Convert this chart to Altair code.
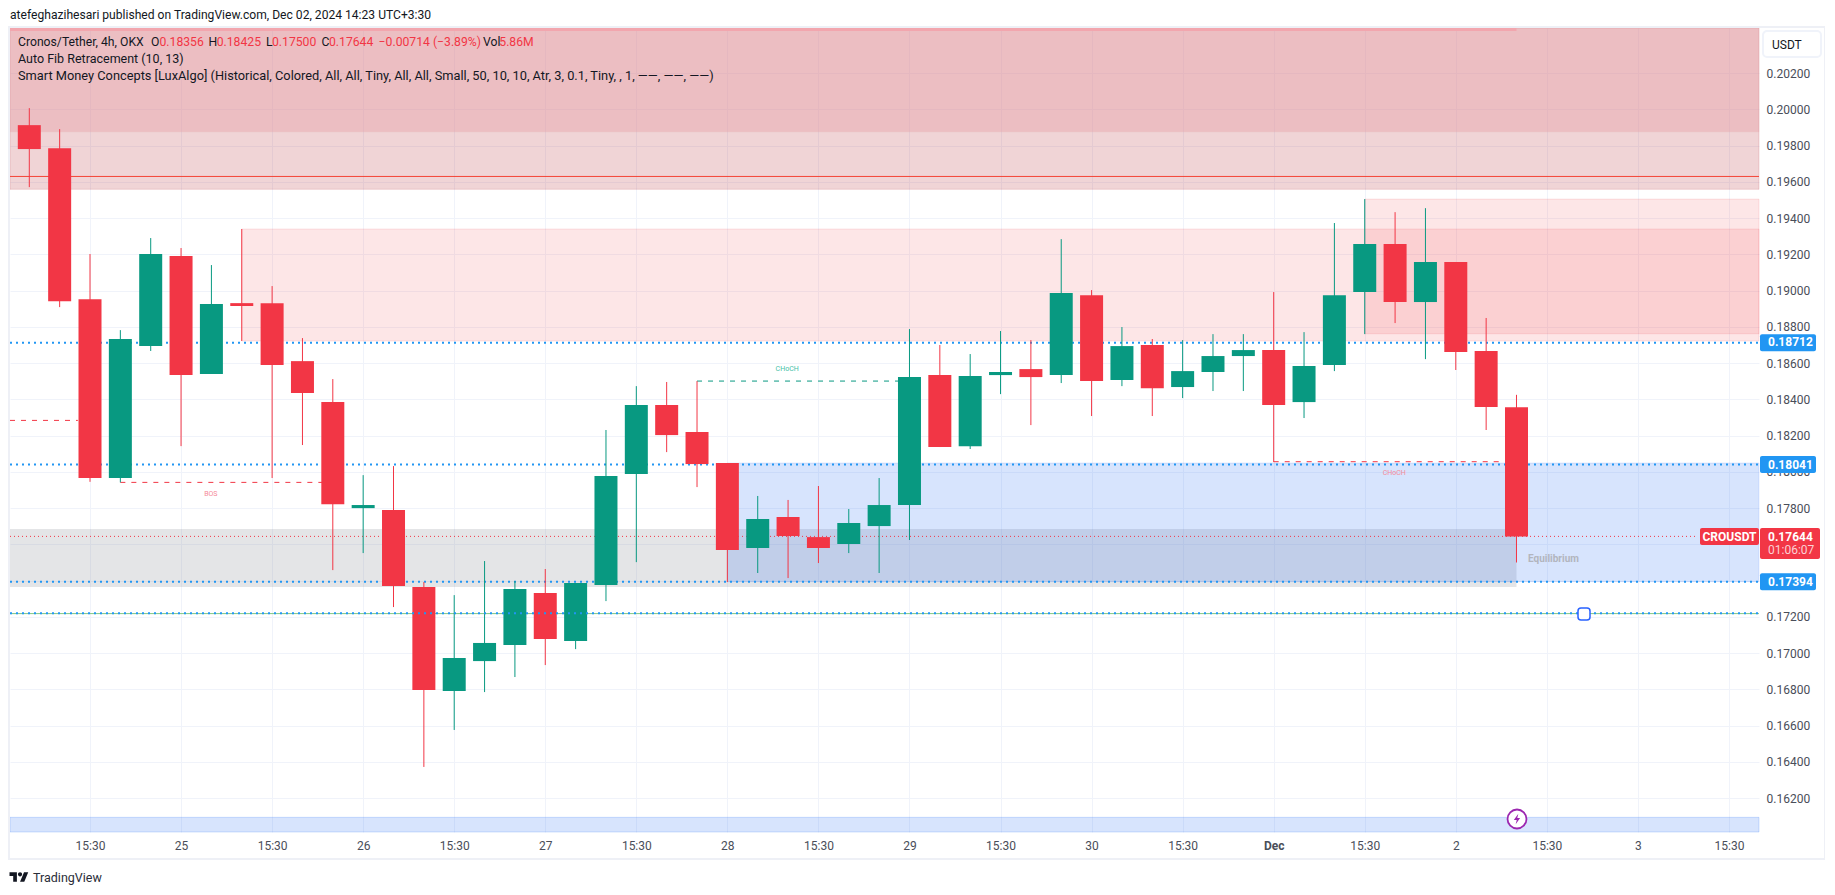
import altair as alt
import pandas as pd

# --- candle data (4h, Cronos/Tether) ---
opens = [0.19913,0.19786,0.18953,0.17966,0.18694,0.19191,0.18540,0.18931,0.18931,0.18611,
         0.18385,0.17800,0.17789,0.17365,0.16791,0.16956,0.17045,0.17331,0.17067,0.17376,
         0.17988,0.18369,0.18220,0.18049,0.17580,0.17751,0.17640,0.17602,0.17701,0.17817,
         0.18534,0.18142,0.18534,0.18567,0.18534,0.18975,0.18507,0.18700,0.18468,0.18551,
         0.18639,0.18672,0.18385,0.18589,0.18992,0.19257,0.18937,0.19158,0.18667,0.18356]
closes = [0.19781,0.18942,0.17966,0.18733,0.19202,0.18534,0.18926,0.18915,0.18589,0.18435,
          0.17822,0.17817,0.17370,0.16796,0.16973,0.17056,0.17354,0.17078,0.17387,0.17977,
          0.18369,0.18203,0.18043,0.17569,0.17740,0.17646,0.17580,0.17718,0.17817,0.18523,
          0.18137,0.18529,0.18551,0.18523,0.18987,0.18501,0.18694,0.18462,0.18556,0.18639,
          0.18672,0.18369,0.18584,0.18975,0.19257,0.18937,0.19158,0.18661,0.18358,0.17644]
highs = [0.20007,0.19891,0.19202,0.18782,0.19290,0.19235,0.19141,0.19340,0.19025,0.18738,
         0.18512,0.17982,0.18032,0.17392,0.17320,0.17508,0.17398,0.17464,0.17387,0.18231,
         0.18473,0.18496,0.18501,0.18049,0.17867,0.17845,0.17922,0.17795,0.17966,0.18788,
         0.18700,0.18650,0.18777,0.18727,0.19284,0.19003,0.18799,0.18733,0.18727,0.18760,
         0.18760,0.18992,0.18771,0.19373,0.19505,0.19433,0.19455,0.19158,0.18849,0.18425]
lows = [0.19571,0.18909,0.17945,0.17942,0.18667,0.18142,0.18540,0.18722,0.17966,0.18148,
        0.17458,0.17552,0.17254,0.16372,0.16576,0.16785,0.16868,0.16934,0.17022,0.17287,
        0.17502,0.18109,0.17916,0.17392,0.17442,0.17414,0.17497,0.17552,0.17442,0.17624,
        0.18137,0.18126,0.18429,0.18258,0.18490,0.18308,0.18473,0.18308,0.18407,0.18446,
        0.18446,0.18054,0.18297,0.18556,0.18760,0.18821,0.18622,0.18562,0.18231,0.17500]

# --- axes ---
x_tick_pos = [2,5,8,11,14,17,20,23,26,29,32,35,38,41,44,47,50,53,56]
x_tick_txt = ["15:30","25","15:30","26","15:30","27","15:30","28","15:30","29","15:30","30",
              "15:30","Dec","15:30","2","15:30","3","15:30"]
y_ticks = [0.162,0.164,0.166,0.168,0.170,0.172,0.174,0.176,0.178,0.180,0.182,0.184,0.186,
           0.188,0.190,0.192,0.194,0.196,0.198,0.200,0.202]
X_DOM = [-0.636, 56.99]
Y_DOM = [0.16013, 0.20449]

# --- zones: x from, x to, price top, price bottom, colour, fill opacity, border opacity ---
zones = [
    (-0.636, 56.99, 0.20449, 0.19559, "#b22833", 0.20, 0.16),
    (-0.636, 56.99, 0.20449, 0.19876, "#e8a4aa", 0.46, 0.16),
    (7, 56.99, 0.19340, 0.18722, "#f03a42", 0.125, 0.12),
    (44, 56.99, 0.19505, 0.18762, "#f03a42", 0.125, 0.12),
    (-0.636, 49, 0.17685, 0.17365, "#787b86", 0.20, 0.0),
    (23, 56.99, 0.18049, 0.17394, "#226cf4", 0.18, 0.12),
    (-0.636, 56.99, 0.16094, 0.16013, "#226cf4", 0.18, 0.2),
]
strip = [(-0.636, 49, 0.20449, 0.20432)]

# --- horizontal levels ---
blue_levels = [0.18712, 0.18041, 0.17394]
blue_top_level = 0.17220
green_level = 0.17218
resistance_line = 0.19630
last_price = 0.17644
dashed_red = [(-0.636, 1.6, 0.18284), (3, 10, 0.17942), (41, 48.6, 0.18056)]
dashed_green = [(22, 29, 0.18501)]
struct_labels = [("BOS", 5.98, 0.17879, "#f58a99"), ("CHoCH", 24.97, 0.18569, "#45bfa8"),
                 ("CHoCH", 44.97, 0.17995, "#f58a99")]

RED, GREEN, BLUE = "#f23645", "#089981", "#2196f3"
FONT = "Roboto"
DARK = "#131722"
GREY = "#4a4e59"

xs = alt.Scale(domain=X_DOM, nice=False, zero=False, padding=0)
ys = alt.Scale(domain=Y_DOM, nice=False, zero=False, padding=0)

AX = alt.Axis(
    values=x_tick_pos, title=None, grid=True, gridColor="#f0f3fa", gridWidth=1,
    domain=False, ticks=False, labelPadding=8, labelFont=FONT, labelFontSize=12,
    labelColor=GREY, labelOverlap=False, labelFlush=False,
    labelExpr="{}[indexof({}, datum.value)]".format(x_tick_txt, x_tick_pos),
    labelFontWeight={"condition": {"test": "datum.value == 41", "value": "bold"}, "value": "normal"},
)
AY = alt.Axis(
    values=y_ticks, title=None, orient="right", grid=True, gridColor="#f0f3fa", gridWidth=1,
    domain=False, ticks=False, labelPadding=7, labelFont=FONT, labelFontSize=12,
    labelColor=GREY, labelOverlap=False, format=".5f", labelBound=False,
)


def X(f, **k):
    return alt.X(f, scale=xs, axis=AX, **k)


def Y(f, **k):
    return alt.Y(f, scale=ys, axis=AY, **k)


def level(rows, color, width, dash=None):
    df = pd.DataFrame(rows, columns=["a", "b", "p"])
    kw = dict(color=color, strokeWidth=width)
    if dash:
        kw["strokeDash"] = dash
    return alt.Chart(df).mark_rule(**kw).encode(x=X("a:Q"), x2="b:Q", y=Y("p:Q"))


def txt(t, x, y, color=DARK, size=12.2, weight="normal", align="left", font=FONT):
    return alt.Chart(pd.DataFrame({"t": [t]})).mark_text(
        color=color, fontSize=size, fontWeight=weight, align=align, baseline="middle", font=font
    ).encode(text="t:N", x=alt.value(x), y=alt.value(y))


def px_rect(x0, x1, y0, y1, fill="transparent", stroke=None, sw=1, radius=0):
    kw = dict(fill=fill, cornerRadius=radius)
    if stroke:
        kw.update(stroke=stroke, strokeWidth=sw)
    return alt.Chart(pd.DataFrame({"k": [0]})).mark_rect(**kw).encode(
        x=alt.value(x0), x2=alt.value(x1), y=alt.value(y0), y2=alt.value(y1))


def price_tag(p, x0, x1, fill, y_up=8.5, y_down=8.5):
    return alt.Chart(pd.DataFrame({"p": [p]})).mark_rect(
        fill=fill, cornerRadius=2, yOffset=-y_up, y2Offset=y_down
    ).encode(x=alt.value(x0), x2=alt.value(x1), y=Y("p:Q"), y2="p:Q")


def icon(path, x, y, size, fill, stroke=None, sw=1):
    kw = dict(shape=path, size=size, fill=fill, filled=True, opacity=1)
    if stroke:
        kw.update(stroke=stroke, strokeWidth=sw)
    return alt.Chart(pd.DataFrame({"k": [0]})).mark_point(**kw).encode(
        x=alt.value(x), y=alt.value(y))


zdf = pd.DataFrame(zones, columns=["a", "b", "top", "bot", "c", "o", "so"])
zones_layer = alt.Chart(zdf).mark_rect(strokeWidth=1).encode(
    x=X("a:Q"),
    x2="b:Q",
    y=Y("top:Q"),
    y2="bot:Q",
    fill=alt.Fill("c:N", scale=None),
    stroke=alt.Stroke("c:N", scale=None),
    fillOpacity=alt.FillOpacity("o:Q", scale=None),
    strokeOpacity=alt.StrokeOpacity("so:Q", scale=None),
)

strip_layer = alt.Chart(pd.DataFrame(strip, columns=["a", "b", "top", "bot"])).mark_rect(
    fill="#f2a6ae").encode(x=X("a:Q"), x2="b:Q", y=Y("top:Q"), y2="bot:Q")

cdf = pd.DataFrame({"i": range(50), "o": opens, "c": closes, "h": highs, "l": lows})
cdf["col"] = [GREEN if c > o else RED for o, c in zip(opens, closes)]
wicks = alt.Chart(cdf).mark_rule(strokeWidth=1).encode(
    x=X("i:Q"), y=Y("l:Q"), y2="h:Q", color=alt.Color("col:N", scale=None))
bodies = alt.Chart(cdf).mark_bar(size=23).encode(
    x=X("i:Q"), y=Y("o:Q"), y2="c:Q", color=alt.Color("col:N", scale=None))

struct_df = pd.DataFrame(struct_labels, columns=["t", "i", "p", "c"])
struct_text = alt.Chart(struct_df).mark_text(fontSize=7, font=FONT, baseline="middle").encode(
    text="t:N", x=X("i:Q"), y=Y("p:Q"), color=alt.Color("c:N", scale=None))

logo = ("M-.222 .5H-.611V-.111H-1V-.5H-.222Z M.556 .5H.111L.528 -.5H.972Z "
        "M-.111 -.278a.222 .222 0 1 0 .444 0a.222 .222 0 1 0 -.444 0Z")
bolt = "M.25 -1L-.6 .2H-.05L-.25 1L.6 -.2H.05Z"

layers = [
    zones_layer,
    strip_layer,
    level([(-0.636, 56.99, resistance_line)], "#f44336", 1),
    level([(-0.636, 56.99, green_level)], "#81c784", 1),
    level([(-0.636, 56.99, p) for p in blue_levels], BLUE, 2, [2, 4]),
    level([(-0.636, 54.9, last_price)], RED, 1, [1, 3]),
    level(dashed_red, RED, 1, [5, 6]),
    level(dashed_green, GREEN, 1, [5, 6]),
    wicks,
    bodies,
    level([(-0.636, 56.99, blue_top_level)], BLUE, 2, [2, 4]),
    struct_text,
    txt("Equilibrium", 1518, 530.5, "#b2b5be", 10, "bold"),
    # frame and unit button
    px_rect(-1, 1815, -1, 831, stroke="#eef0f6", sw=2),
    px_rect(1753, 1811, 3, 29, fill="white", stroke="#f0f3fa", sw=2, radius=4),
    txt("USDT", 1762, 16.5, DARK, 12),
    # price tags
    price_tag(0.18712, 1750, 1806, BLUE),
    price_tag(0.18041, 1750, 1806, BLUE),
    price_tag(0.17394, 1750, 1806, BLUE),
    txt("0.18712", 1758, 314, "white", 12, "bold"),
    txt("0.18041", 1758, 436.5, "white", 12, "bold"),
    txt("0.17394", 1758, 553.5, "white", 12, "bold"),
    price_tag(0.17644, 1690, 1749, RED),
    txt("CROUSDT", 1719.5, 508.7, "white", 12, "bold", "center"),
    price_tag(0.17644, 1750, 1810, RED, 8.5, 22.7),
    txt("0.17644", 1758, 508.7, "white", 12, "bold"),
    txt("01:06:07", 1758, 522.3, "#fbd0d4", 12),
    # handle and event icon
    px_rect(1568, 1580, 580, 592, fill="white", stroke="#2962ff", sw=1.5, radius=3),
    icon("circle", 1507, 791, 360, "white", "#9c27b0", 1.8),
    icon(bolt, 1507, 791, 110, "#9c27b0"),
    # legend lines
    txt("Cronos/Tether, 4h, OKX", 8, 13.7),
    txt("O", 141, 13.7), txt("0.18356", 149.5, 13.7, RED),
    txt("H", 198.4, 13.7), txt("0.18425", 206.7, 13.7, RED),
    txt("L", 256, 13.7), txt("0.17500", 262, 13.7, RED),
    txt("C", 311.4, 13.7), txt("0.17644", 319, 13.7, RED),
    txt("\u22120.00714 (\u22123.89%)", 368.6, 13.7, RED),
    txt("Vol", 473, 13.7), txt("5.86M", 489.3, 13.7, RED),
    txt("Auto Fib Retracement (10, 13)", 8, 31, size=12.5),
    txt("Smart Money Concepts [LuxAlgo] (Historical, Colored, All, All, Tiny, All, All, Small, 50, 10, 10, Atr, 3, 0.1, Tiny, , 1, \u2014\u2014, \u2014\u2014, \u2014\u2014)", 8, 48, size=12.8),
    # page header and footer
    txt("atefeghazihesari published on TradingView.com, Dec 02, 2024 14:23 UTC+3:30", 0, -13, DARK, 12.1),
    icon(logo, 9, 849, 361, "#131722"),
    txt("TradingView", 23, 849.5, "#2a2e39", 12.5),
]

chart = alt.layer(*layers).properties(
    width=1749,
    height=804,
    background="white",
    autosize=alt.AutoSizeParams(type="none"),
    padding={"left": 2, "top": 20, "right": 66, "bottom": 55},
).configure_view(stroke=None)

chart.save("out.html", embed_options={"renderer": "svg", "actions": False})
